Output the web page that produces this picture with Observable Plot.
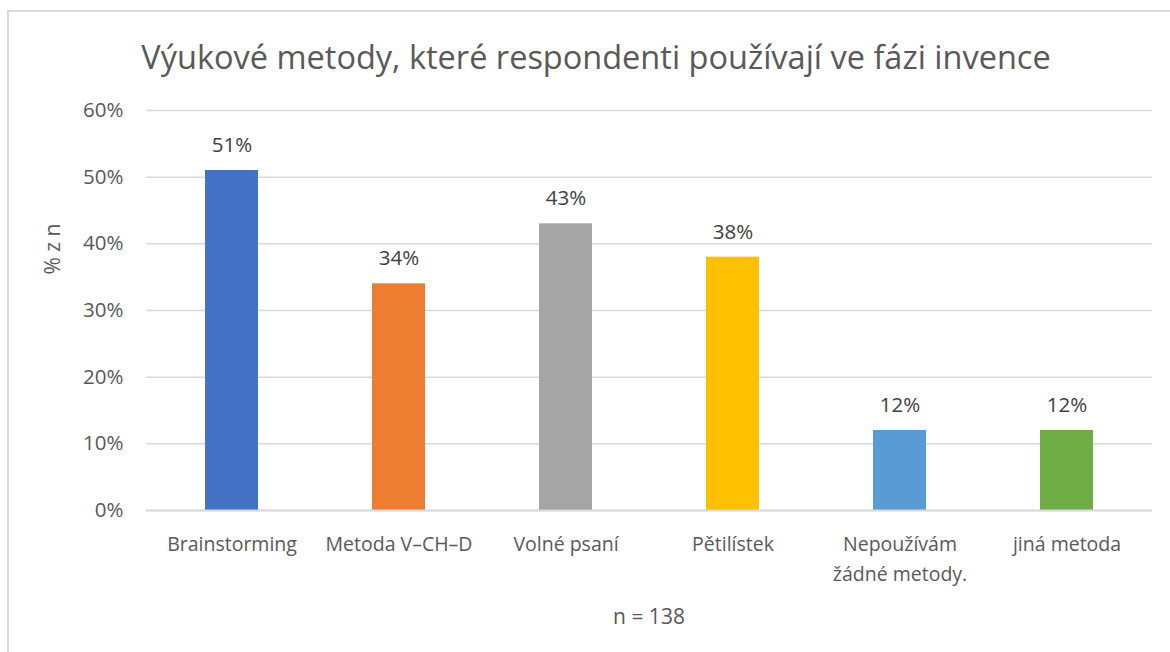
<!DOCTYPE html>
<html>
<head>
<meta charset="utf-8">
<script src="https://cdn.jsdelivr.net/npm/d3@7"></script>
<script src="https://cdn.jsdelivr.net/npm/@observablehq/plot@0.6"></script>
<style>
  html, body { margin: 0; padding: 0; background: #fff; }
  #wrap { position: relative; width: 1170px; height: 652px; overflow: hidden; font-family: "Open Sans", sans-serif; }
  #border { position: absolute; left: 7px; top: 10px; width: 1200px; height: 700px; border: 2px solid #d9d9d9; box-sizing: border-box; }
  #title { position: absolute; left: 0; top: 34px; width: 1192px; text-align: center; font-size: 32.5px; color: #595959; white-space: nowrap; }
  #chart { position: absolute; left: 0; top: 90px; }
  #caption { position: absolute; left: 0; top: 602px; width: 1298px; text-align: center; font-size: 21px; color: #595959; }
</style>
</head>
<body>
<div id="wrap">
  <div id="border"></div>
  <div id="title">Výukové metody, které respondenti používají ve fázi invence</div>
  <div id="chart"></div>
  <div id="caption">n = 138</div>
</div>
<script>
const categories = ["Brainstorming", "Metoda V–CH–D", "Volné psaní", "Pětilístek", "Nepoužívám\nžádné metody.", "jiná metoda"];
const values = [51, 34, 43, 38, 12, 12];
const colors = ["#4472C4", "#ED7D31", "#A5A5A5", "#FFC000", "#5B9BD5", "#70AD47"];
const yTicks = [0, 10, 20, 30, 40, 50, 60];
const yLabel = "% z n";

const data = categories.map((c, i) => ({category: c, value: values[i], color: colors[i]}));

const chart = Plot.plot({
  width: 1170,
  height: 540,
  marginTop: 20,
  marginBottom: 120,
  marginLeft: 146,
  marginRight: 18,
  style: {fontFamily: "Open Sans, sans-serif", background: "transparent"},
  x: {domain: categories, padding: 0, label: null},
  y: {domain: [0, 60], label: null},
  marks: [
    Plot.gridY(yTicks, {stroke: "#d9d9d9", strokeOpacity: 1, strokeWidth: 1.5}),
    Plot.axisY(yTicks, {tickSize: 0, tickPadding: 23, tickFormat: d => d + "%", fontSize: 20.5, fill: "#595959", label: null}),
    Plot.axisX({tickSize: 0, tickPadding: 20, fontSize: 19.5, fill: "#595959", lineHeight: 1.5, label: null}),
    Plot.barY(data, {x: "category", y: "value", fill: "color", insetLeft: 57, insetRight: 57}),
    Plot.ruleY([0], {stroke: "#d9d9d9", strokeWidth: 2}),
    Plot.text(data, {x: "category", y: "value", text: d => d.value + "%", dy: -25, fontSize: 20.5, fill: "#404040"}),
    Plot.text([yLabel], {frameAnchor: "left", text: d => d, rotate: -90, dx: -93, dy: -36, fontSize: 21, fill: "#595959"})
  ]
});
document.getElementById("chart").appendChild(chart);
</script>
</body>
</html>
